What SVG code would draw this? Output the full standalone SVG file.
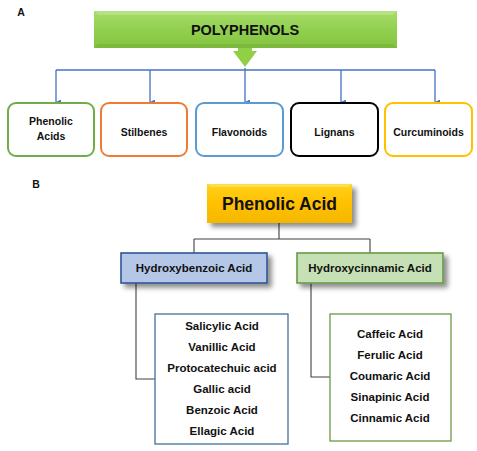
<svg xmlns="http://www.w3.org/2000/svg" width="477" height="451" viewBox="0 0 477 451">
<style>
text{font-family:"Liberation Sans",Arial,sans-serif;font-weight:bold;fill:#111;text-anchor:middle}
.cat{fill:#fff;stroke-width:2}
.blue{fill:none;stroke:#4472C4;stroke-width:1.3}
.gray{fill:none;stroke:#404040;stroke-width:1.1}
.item{font-size:11.5px}
.lbl{font-size:10.5px}
</style>
<defs>
<linearGradient id="gGreen" x1="0" y1="0" x2="0" y2="1">
<stop offset="0" stop-color="#a6dc6a"/><stop offset="0.5" stop-color="#92d050"/><stop offset="1" stop-color="#84c240"/>
</linearGradient>
<linearGradient id="gGold" x1="0" y1="0" x2="0" y2="1">
<stop offset="0" stop-color="#ffd21a"/><stop offset="0.5" stop-color="#ffc000"/><stop offset="1" stop-color="#f5b800"/>
</linearGradient>
<filter id="sh" x="-20%" y="-30%" width="150%" height="180%">
<feGaussianBlur in="SourceAlpha" stdDeviation="2.5"/>
<feOffset dx="4" dy="4" result="b"/>
<feComponentTransfer><feFuncA type="linear" slope="0.45"/></feComponentTransfer>
<feMerge><feMergeNode/><feMergeNode in="SourceGraphic"/></feMerge>
</filter>
<marker id="ah" viewBox="0 0 6 6" refX="3" refY="6" markerWidth="5" markerHeight="5" orient="auto-start-reverse" markerUnits="userSpaceOnUse">
<path d="M0,0 L6,0 L3,6 z" fill="#4472C4"/>
</marker>
</defs>

<text x="21" y="16" style="font-size:10.5px">A</text>
<text x="36" y="188" style="font-size:10.5px">B</text>

<g id="connectors">
<path class="blue" d="M56,70 H435"/>
<path class="blue" d="M56,70 V102" marker-end="url(#ah)"/>
<path class="blue" d="M150,70 V102" marker-end="url(#ah)"/>
<path class="blue" d="M245,68 V102" marker-end="url(#ah)"/>
<path class="blue" d="M341,70 V102" marker-end="url(#ah)"/>
<path class="blue" d="M435,70 V102" marker-end="url(#ah)"/>
<path class="gray" d="M279,223 V239 M194,239 H370 M194,239 V253 M370,239 V253"/>
<path class="gray" d="M136,283 V379 H155"/>
<path class="gray" d="M311,283 V377 H330"/>
</g>

<g id="polyphenols">
<rect x="94" y="11" width="303" height="37" fill="url(#gGreen)"/>
<path d="M94,11 H397 L393,15 H98 Z" fill="#b8e488" opacity="0.8"/>
<path d="M94,48 H397 L393,44 H98 Z" fill="#78b238" opacity="0.6"/>
<text x="245" y="35" style="font-size:14.5px">POLYPHENOLS</text>
<path d="M238,48 H252 V51 H257 L245,67 L233,51 H238 Z" fill="#8fd046"/>
</g>

<g id="phenolic-acids">
<rect class="cat" x="8" y="103" width="86" height="53" rx="8" stroke="#70AD47"/>
<text class="lbl" x="51" y="125">Phenolic</text>
<text class="lbl" x="51" y="140">Acids</text>
</g>
<g id="stilbenes">
<rect class="cat" x="101" y="103" width="86" height="53" rx="8" stroke="#ED7D31"/>
<text class="lbl" x="144" y="136">Stilbenes</text>
</g>
<g id="flavonoids">
<rect class="cat" x="196" y="103" width="87" height="53" rx="8" stroke="#5B9BD5"/>
<text class="lbl" x="239.5" y="136">Flavonoids</text>
</g>
<g id="lignans">
<rect class="cat" x="291" y="103" width="87" height="53" rx="8" stroke="#000"/>
<text class="lbl" x="334.5" y="136">Lignans</text>
</g>
<g id="curcuminoids">
<rect class="cat" x="385" y="103" width="87" height="53" rx="8" stroke="#FFC000"/>
<text class="lbl" x="428.5" y="136">Curcuminoids</text>
</g>

<g id="phenolic-acid">
<rect x="207" y="184" width="145" height="39" fill="url(#gGold)" filter="url(#sh)"/>
<path d="M207,184 H352 L349,187 H210 Z" fill="#ffe060" opacity="0.8"/>
<text x="279.5" y="210" style="font-size:17.5px">Phenolic Acid</text>
</g>

<g id="hydroxybenzoic">
<rect x="121" y="253" width="146" height="30" fill="#B4C7E7" stroke="#2F5597" stroke-width="1.6" filter="url(#sh)"/>
<text x="194" y="272" style="font-size:11.5px">Hydroxybenzoic Acid</text>
</g>
<g id="hydroxycinnamic">
<rect x="297" y="253" width="146" height="30" fill="#C5E0B4" stroke="#6A9A45" stroke-width="1.6" filter="url(#sh)"/>
<text x="370" y="272" style="font-size:11.5px">Hydroxycinnamic Acid</text>
</g>

<g id="benzoic-list">
<rect x="155" y="314" width="133" height="130" fill="#fff" stroke="#41719C" stroke-width="1.3"/>
<text class="item" x="222" y="330">Salicylic Acid</text>
<text class="item" x="222" y="351">Vanillic Acid</text>
<text class="item" x="222" y="372">Protocatechuic acid</text>
<text class="item" x="222" y="393">Gallic acid</text>
<text class="item" x="222" y="414">Benzoic Acid</text>
<text class="item" x="222" y="435">Ellagic Acid</text>
</g>
<g id="cinnamic-list">
<rect x="330" y="314" width="121" height="127" fill="#fff" stroke="#6A9A45" stroke-width="1.3"/>
<text class="item" x="390" y="338">Caffeic Acid</text>
<text class="item" x="390" y="359">Ferulic Acid</text>
<text class="item" x="390" y="380">Coumaric Acid</text>
<text class="item" x="390" y="401">Sinapinic Acid</text>
<text class="item" x="390" y="422">Cinnamic Acid</text>
</g>
</svg>
